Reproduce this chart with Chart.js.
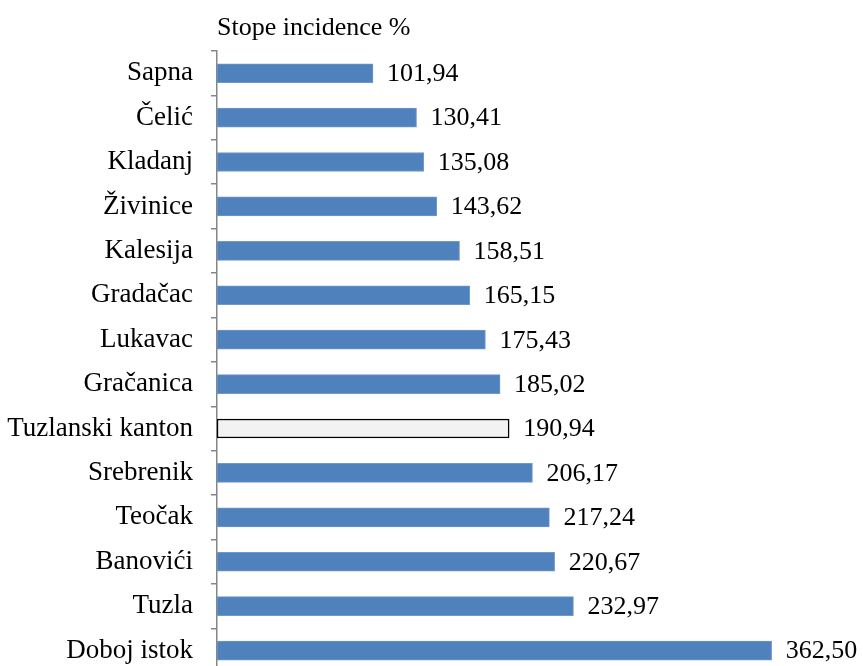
<!DOCTYPE html>
<html>
<head>
<meta charset="utf-8">
<script src="https://cdn.jsdelivr.net/npm/chart.js@4.4.0/dist/chart.umd.min.js"></script>
<style>
    html, body { margin: 0; padding: 0; background: #fff; overflow: hidden; }
    #wrap { width: 863px; height: 707px; position: relative; }
</style>
</head>
<body>
<div id="wrap"><canvas id="stopeChart"></canvas></div>
<script>
// Municipalities, top to bottom as in the picture
const municipalities = ["Sapna", "Čelić", "Kladanj", "Živinice", "Kalesija", "Gradačac", "Lukavac",
    "Gračanica", "Tuzlanski kanton", "Srebrenik", "Teočak", "Banovići", "Tuzla", "Doboj istok"];
const incidence = [101.94, 130.41, 135.08, 143.62, 158.51, 165.15, 175.43,
    185.02, 190.94, 206.17, 217.24, 220.67, 232.97, 362.50];
const chartTitle = "Stope incidence %";

const FONT = "'Liberation Serif', 'Times New Roman', serif";

// canton average is drawn as a light bar with black outline
const fillColors = municipalities.map(m => m === "Tuzlanski kanton" ? "#f2f2f2" : "#4f81bd");
const edgeColors = municipalities.map(m => m === "Tuzlanski kanton" ? "#000000" : "#6f98cc");
const edgeWidths = municipalities.map(m => m === "Tuzlanski kanton" ? 1.5 : 1);

// value labels at the end of each bar, decimal comma
const valueLabels = {
    id: 'valueLabels',
    afterDatasetsDraw(chart) {
        const ctx = chart.ctx;
        const meta = chart.getDatasetMeta(0);
        ctx.save();
        ctx.font = "26px " + FONT;
        ctx.fillStyle = "#000";
        ctx.textAlign = "left";
        ctx.textBaseline = "middle";
        meta.data.forEach((bar, i) => {
            ctx.fillText(incidence[i].toFixed(2).replace('.', ','), bar.x + 14, bar.y + 1);
        });
        ctx.restore();
    }
};

// title sits above the axis, left aligned with it
const axisTitle = {
    id: 'axisTitle',
    afterDraw(chart) {
        const ctx = chart.ctx;
        ctx.save();
        ctx.font = "26px " + FONT;
        ctx.fillStyle = "#000";
        ctx.textAlign = "left";
        ctx.textBaseline = "alphabetic";
        ctx.fillText(chartTitle, chart.chartArea.left, 35);
        ctx.restore();
    }
};

new Chart(document.getElementById('stopeChart'), {
    type: 'bar',
    data: {
        labels: municipalities,
        datasets: [{
            data: incidence,
            backgroundColor: fillColors,
            borderColor: edgeColors,
            borderWidth: edgeWidths,
            borderSkipped: false,
            barThickness: 19
        }]
    },
    options: {
        indexAxis: 'y',
        responsive: true,
        maintainAspectRatio: false,
        animation: false,
        layout: { padding: { top: 51, right: 34, bottom: 0, left: 0 } },
        plugins: {
            legend: { display: false },
            tooltip: { enabled: false }
        },
        scales: {
            x: {
                display: false,
                min: 0,
                max: 400
            },
            y: {
                afterFit(scale) { scale.width = 217; },
                border: { display: true, color: '#868686', width: 1.5 },
                grid: {
                    offset: true,
                    drawOnChartArea: false,
                    drawTicks: true,
                    tickLength: 6,
                    color: '#868686',
                    lineWidth: 1.5
                },
                ticks: {
                    color: '#000',
                    padding: 18,
                    font: { family: FONT, size: 27 }
                }
            }
        }
    },
    plugins: [valueLabels, axisTitle]
});
</script>
</body>
</html>
